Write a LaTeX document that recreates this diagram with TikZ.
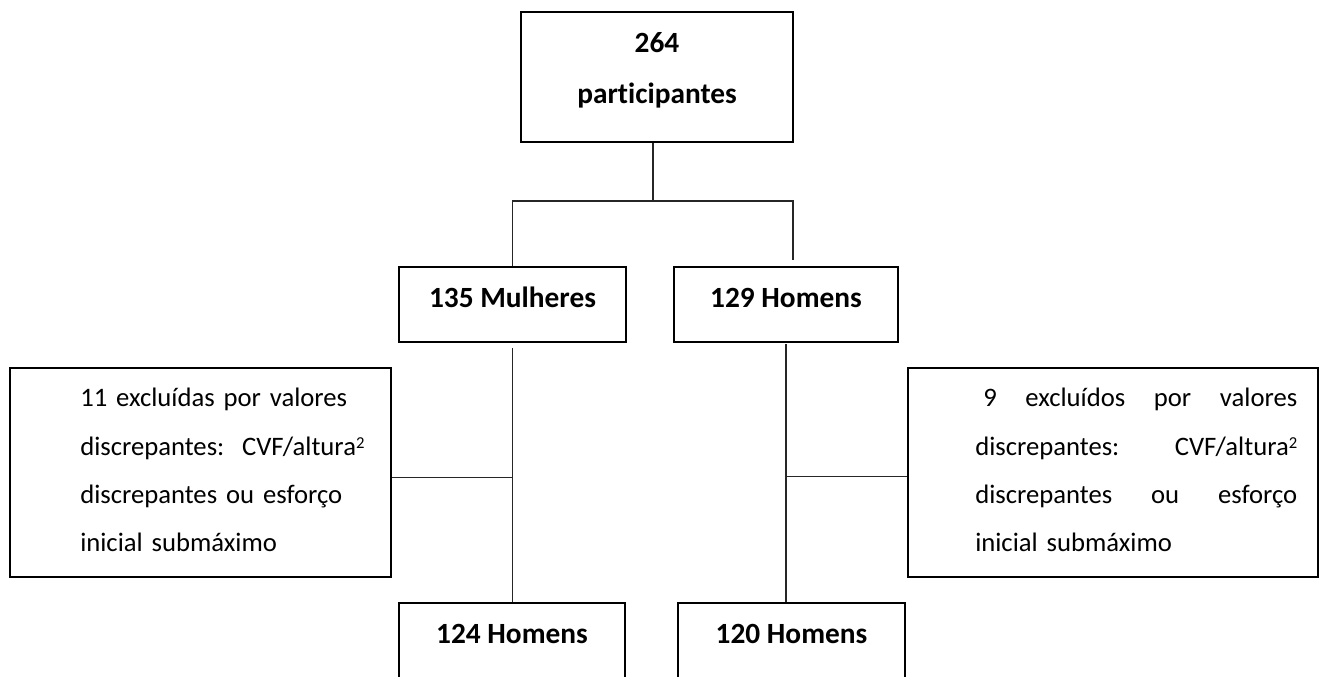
\documentclass[tikz,border=0pt]{standalone}
\usepackage{fontspec}
\setmainfont{Carlito}[Ligatures=NoCommon]
\usetikzlibrary{positioning, calc}

\newcommand{\sqr}{\raisebox{5pt}{\fontsize{12.5}{12.5}\selectfont 2}}

\begin{document}
\begin{tikzpicture}[
    x=0.75pt, y=-0.75pt,
    groupbox/.style={draw, line width=1.5pt, inner sep=0pt, align=center, minimum width=#1, minimum height=56.25pt, text height=14pt, text depth=9.5pt, font=\bfseries\fontsize{22}{38.25}\selectfont},
    exclbox/.style={draw, line width=1.5pt, inner sep=0pt, minimum width=#1, minimum height=156.75pt},
    excltext/.style={inner sep=0pt, text width=241.5pt, font=\fontsize{20}{36.2}\selectfont},
    link/.style={line width=0.8pt, draw=black!85}
]
    \useasboundingbox (0,0) rectangle (1327,677);

    % boxes
    \node[draw, line width=1.5pt, inner sep=0pt, align=center, minimum width=204pt, minimum height=97.5pt, text depth=13pt, font=\bfseries\fontsize{22}{38.25}\selectfont] (total) at (657,77) {264\\participantes};
    \node[groupbox=170.25pt] (mulheres) at (512.5,304.5) {135 Mulheres};
    \node[groupbox=168pt] (homens) at (786,304.5) {129 Homens};
    \node[groupbox=169.5pt] (finalF) at (512,640.5) {124 Homens};
    \node[groupbox=170.25pt] (finalM) at (791.5,640.5) {120 Homens};

    \node[exclbox=285.75pt] (exclF) at (200.5,472.5) {};
    \node[excltext, anchor=west, align=left] (exclFtxt) at (80,470) {11 excluídas por valores\\discrepantes:\ \ CVF/altura\sqr\\discrepantes ou esforço\\inicial submáximo};
    \node[exclbox=307.5pt] (exclM) at (1113,472.5) {};
    \node[excltext, anchor=west, align=left] (exclMtxt) at (975,470) {\hspace*{6pt}9\hfill excluídos\hfill por\hfill valores\\discrepantes:\hfill CVF/altura\sqr\\discrepantes\hfill ou\hfill esforço\\inicial submáximo};

    % connectors
    \draw[link] ([xshift=-3pt]total.south) -- ++(0,58) coordinate (split);
    \draw[link] (mulheres.north) |- (split) -| ($(homens.north)+(7,-6)$);
    \draw[link] ([yshift=-4pt]mulheres.south) -- (mulheres.south |- finalF.north);
    \draw[link] ([yshift=-4pt]exclF.east) coordinate (joinF) -- (joinF -| finalF.north);
    \draw[link] ([yshift=-1pt]homens.south) -- (homens.south |- finalM.north);
    \draw[link] ([yshift=-3pt]exclM.west) coordinate (joinM) -- (joinM -| homens.south);
\end{tikzpicture}
\end{document}
